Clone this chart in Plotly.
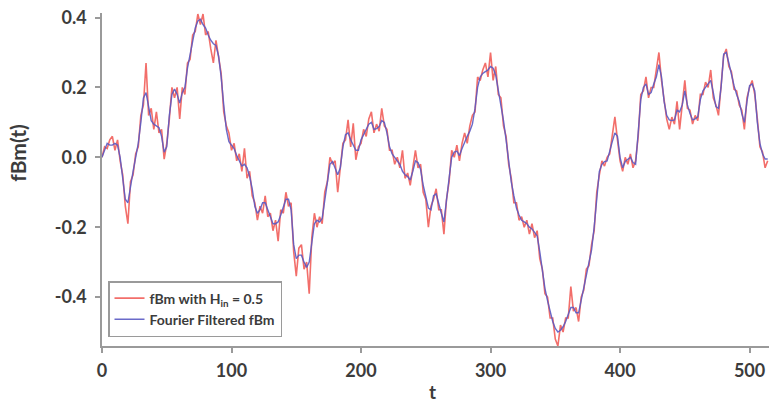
import plotly.graph_objects as go

blue_y = [
    0.0, 0.02, 0.04, 0.035, 0.035, 0.04, 0.035, 0.0, -0.06, -0.12,
    -0.13, -0.08, -0.04, 0.0, 0.04, 0.1, 0.17, 0.185, 0.14, 0.105,
    0.095, 0.09, 0.085, 0.06, 0.015, 0.03, 0.12, 0.18, 0.195, 0.18,
    0.155, 0.185, 0.2, 0.255, 0.29, 0.335, 0.37, 0.39, 0.395, 0.38,
    0.37, 0.35, 0.335, 0.325, 0.32, 0.29, 0.23, 0.15, 0.08, 0.045,
    0.035,
    0.025, 0.005, -0.01, -0.025, -0.02, -0.03, -0.055, -0.09, -0.14, -0.16,
    -0.15, -0.13, -0.13, -0.15, -0.175, -0.19, -0.19, -0.185, -0.165, -0.14,
    -0.12, -0.12, -0.15, -0.25, -0.29, -0.28, -0.28, -0.3, -0.315, -0.3,
    -0.25, -0.19, -0.18, -0.185, -0.175, -0.12, -0.06, -0.02, -0.012, -0.03,
    -0.05, -0.03, 0.03, 0.065, 0.07, 0.05, 0.035, 0.02, 0.02,
    0.05, 0.065, 0.078, 0.095, 0.1, 0.08, 0.082, 0.088, 0.105, 0.1,
    0.07, 0.03, 0.01, 0.0, -0.01, -0.02, -0.04, -0.05, -0.055, -0.065,
    -0.04, -0.01, -0.015, -0.035, -0.08, -0.11, -0.145, -0.15, -0.11, -0.105,
    -0.135, -0.16, -0.185, -0.13, -0.06, 0.0, 0.015, 0.018, 0.005, 0.025,
    0.045, 0.06, 0.075, 0.095, 0.14, 0.2, 0.23, 0.24, 0.245, 0.25,
    0.26, 0.255, 0.235, 0.195, 0.15, 0.105, 0.05, -0.01, -0.07, -0.11,
    -0.145, -0.165, -0.18, -0.185, -0.19, -0.2, -0.205, -0.215, -0.225, -0.27,
    -0.33, -0.375, -0.41, -0.445, -0.47, -0.49, -0.5, -0.495, -0.485, -0.47,
    -0.45, -0.43, -0.43, -0.445, -0.445, -0.41, -0.365, -0.33, -0.3, -0.265,
    -0.2, -0.11, -0.04, -0.02, -0.012, -0.01, 0.02, 0.045, 0.07, 0.06,
    0.0, -0.03, -0.012, -0.005, 0.0, -0.015, -0.02, 0.07, 0.165, 0.2,
    0.21, 0.18, 0.185, 0.21, 0.23, 0.265, 0.23, 0.16, 0.12, 0.107,
    0.105, 0.107, 0.135, 0.13, 0.15, 0.19, 0.15, 0.125, 0.107, 0.11,
    0.116, 0.165, 0.19, 0.2, 0.21, 0.22, 0.185, 0.145, 0.14, 0.2,
    0.295, 0.3, 0.27, 0.235, 0.205, 0.18, 0.16, 0.125, 0.1, 0.16,
    0.205, 0.21, 0.19, 0.1, 0.04, 0.01, -0.005, -0.005,
]

# Raw fBm (red), same sampling
red_y = [
    0.0, 0.03, 0.025, 0.05, 0.06, 0.02, 0.05, -0.01, -0.05, -0.14,
    -0.19, -0.07, -0.05, 0.01, 0.03, 0.12, 0.15, 0.27, 0.12, 0.14,
    0.08, 0.13, 0.07, 0.08, -0.005, 0.04, 0.11, 0.2, 0.17, 0.2,
    0.11, 0.2, 0.18, 0.27, 0.28, 0.35, 0.36, 0.41, 0.38, 0.41,
    0.35, 0.36, 0.31, 0.27, 0.335, 0.28, 0.24, 0.13, 0.09, 0.07,
    0.02,
    0.04, -0.01, 0.01, -0.04, 0.026, -0.06, -0.04, -0.11, -0.13, -0.18,
    -0.14, -0.16, -0.11, -0.17, -0.16, -0.21, -0.18, -0.24, -0.15, -0.16,
    -0.1, -0.14, -0.13, -0.27, -0.34, -0.26, -0.25, -0.32, -0.3, -0.39,
    -0.23, -0.16, -0.2, -0.17, -0.19, -0.1, -0.07, 0.0, -0.02, -0.01,
    -0.1, -0.02, 0.04, 0.05, 0.107, 0.03, 0.097, -0.007, 0.03,
    0.04, 0.08, 0.06, 0.11, 0.13, 0.07, 0.095, 0.075, 0.14, 0.09,
    0.08, 0.02, 0.02, -0.02, 0.0, -0.03, 0.02, -0.06, -0.045, -0.08,
    -0.03, 0.02, -0.03, -0.02, -0.1, -0.12, -0.2, -0.14, -0.12, -0.09,
    -0.15, -0.15, -0.22, -0.12, -0.07, 0.02, 0.0, 0.035, -0.01, 0.04,
    0.07, 0.04, 0.09, 0.12, 0.13, 0.23, 0.22, 0.25, 0.27, 0.23,
    0.3, 0.22, 0.26, 0.18, 0.17, 0.09, 0.06, -0.02, -0.06, -0.13,
    -0.13, -0.18, -0.17, -0.2, -0.18, -0.22, -0.19, -0.23, -0.21, -0.29,
    -0.32, -0.39, -0.4, -0.46, -0.46, -0.52, -0.54, -0.48, -0.5, -0.46,
    -0.46, -0.37, -0.44, -0.43, -0.47, -0.4, -0.38, -0.32, -0.31, -0.25,
    -0.21, -0.1, -0.05, -0.01, -0.025, 0.0, 0.01, 0.06, 0.116, 0.05,
    -0.01, -0.04, 0.0, -0.02, 0.01, -0.03, -0.01, 0.06, 0.18, 0.19,
    0.23, 0.17, 0.2, 0.2, 0.25, 0.3, 0.22, 0.17, 0.11, 0.08,
    0.115, 0.095, 0.16, 0.08, 0.16, 0.22, 0.14, 0.135, 0.095, 0.12,
    0.105, 0.18, 0.18, 0.215, 0.2, 0.25, 0.17, 0.15, 0.12, 0.21,
    0.29, 0.31, 0.26, 0.245, 0.195, 0.19, 0.15, 0.135, 0.08, 0.17,
    0.2, 0.22, 0.18, 0.11, 0.03, 0.015, -0.03, -0.01,
]

t_step = 2
t_blue = [i * t_step for i in range(len(blue_y))]
t_red = [i * t_step for i in range(len(red_y))]

x_ticks = [0, 100, 200, 300, 400, 500]
y_ticks = [-0.4, -0.2, 0.0, 0.2, 0.4]
y_tick_text = ["-0.4", "-0.2", "0.0", "0.2", "0.4"]

FONT = "Lato, Open Sans, sans-serif"
TXT = "#3c3c3c"
AX = "#9a9a9a"

fig = go.Figure()
fig.add_trace(go.Scatter(
    x=t_red, y=red_y, mode="lines", name="fBm with H<sub>in</sub> = 0.5",
    line=dict(color="rgba(240,85,80,0.85)", width=1.6),
))
fig.add_trace(go.Scatter(
    x=t_blue, y=blue_y, mode="lines", name="Fourier Filtered fBm",
    line=dict(color="rgba(90,90,195,0.9)", width=1.4),
))

fig.update_layout(
    width=769, height=405,
    margin=dict(l=102, r=0, t=13, b=59),
    paper_bgcolor="white", plot_bgcolor="white",
    font=dict(family=FONT, color=TXT, size=17),
    showlegend=True,
    legend=dict(
        x=0.009, y=0.027, xanchor="left", yanchor="bottom",
        bgcolor="white", bordercolor=AX, borderwidth=1.5,
        font=dict(family=FONT, size=14, color=TXT, weight="bold"),
        itemwidth=30, tracegroupgap=0,
    ),
    xaxis=dict(
        range=[0, 515], showgrid=False, zeroline=False,
        showline=True, linecolor=AX, linewidth=1.5,
        ticks="outside", ticklen=5, tickcolor=AX, tickwidth=1.5,
        tickvals=x_ticks,
        tickfont=dict(size=18, color=TXT, family=FONT, weight="bold"),
        ticklabelstandoff=3,
    ),
    yaxis=dict(
        range=[-0.54, 0.413], showgrid=False, zeroline=False,
        showline=True, linecolor=AX, linewidth=1.5,
        ticks="outside", ticklen=5, tickcolor=AX, tickwidth=1.5,
        tickvals=y_ticks, ticktext=y_tick_text,
        tickfont=dict(size=18, color=TXT, family=FONT, weight="bold"),
        ticklabelstandoff=5,
    ),
    annotations=[
        dict(text="fBm(t)", xref="paper", yref="paper",
             x=-0.126, y=0.58, textangle=-90, showarrow=False,
             font=dict(size=21, color=TXT, family=FONT, weight="bold"),
             xanchor="center", yanchor="middle"),
        dict(text="t", xref="paper", yref="paper",
             x=0.495, y=-0.137, showarrow=False,
             font=dict(size=19, color=TXT, family=FONT, weight="bold"),
             xanchor="center", yanchor="middle"),
    ],
)

fig.write_html("out.html")
